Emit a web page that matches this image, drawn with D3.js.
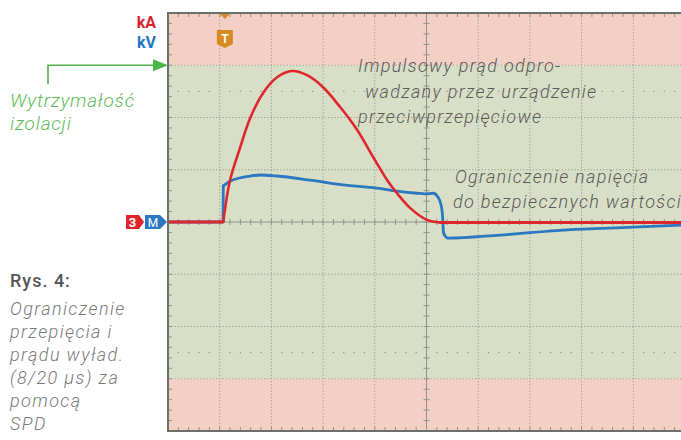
<!DOCTYPE html>
<html lang="pl">
<head>
  <meta charset="UTF-8" />
  <title>Rys. 4 – ograniczenie przepięcia</title>
  <style>
    body { margin: 0; background: #fff; font-family: 'Roboto', sans-serif; }
    svg { display: block; }
    .grid { stroke: #9a9c94; stroke-width: 1; stroke-dasharray: 1.2,2; fill: none; }
    .axis-c { stroke: #8f928c; stroke-width: 1; }
    .tick { stroke: #8f928c; stroke-width: 1; }
    .trace { fill: none; stroke-linejoin: round; stroke-linecap: round; }
    .note { font-style: italic; font-weight: 300; fill: #5a5a5a; font-size: 18px; letter-spacing: 1.3px; }
  </style>
</head>
<body>
<svg id="chart" width="681" height="440"></svg>
<script src="https://d3js.org/d3.v7.min.js"></script>
<script>
  // czas i wartości w działkach ekranu oscyloskopu
  const currentT   = [0, 1.064, 1.07, 1.20, 1.39, 1.59, 1.84, 2.11, 2.40, 2.69, 3.00, 3.33, 3.66, 3.97, 4.24, 4.43, 4.68, 5.01, 5.26, 6.5, 8.0, 10];
  const currentDiv = [0, 0, 0.01, 0.80, 1.41, 1.99, 2.47, 2.77, 2.89, 2.81, 2.58, 2.20, 1.76, 1.24, 0.80, 0.55, 0.27, 0.04, -0.01, -0.01, -0.01, -0.01];

  const voltageT   = [0, 1.064, 1.07, 1.20, 1.59, 1.78, 2.11, 2.75, 3.38, 4.04, 4.43, 4.82, 4.97, 5.13, 5.22, 5.28, 5.31, 5.33, 5.38, 5.42, 6.42, 7.72, 8.99, 10];
  const voltageDiv = [0, 0, 0.69, 0.78, 0.88, 0.90, 0.88, 0.80, 0.71, 0.65, 0.59, 0.55, 0.54, 0.55, 0.48, 0.33, 0.13, -0.21, -0.29, -0.31, -0.25, -0.15, -0.10, -0.055];

  const xDivs = d3.range(0, 11);
  const yDivs = d3.range(-4, 5);
  const bands = [{ y0: 3, y1: 4, c: "#f4d0c4" }, { y0: -3, y1: 3, c: "#d8dfc6" }, { y0: -4, y1: -3, c: "#f4d0c4" }];

  const captionLines = ["Ograniczenie", "przepięcia i", "prądu wyład.", "(8/20 µs) za", "pomocą", "SPD"];
  const noteCurrent = ["Impulsowy prąd odpro-", "wadzany przez urządzenie", "przeciwprzepięciowe"];
  const noteVoltage = ["Ograniczenie napięcia", "do bezpiecznych wartości"];

  const svg = d3.select("#chart");
  const L = 168, T = 13, W = 517, H = 418;
  const x = d3.scaleLinear().domain([0, 10]).range([L, L + W]);
  const y = d3.scaleLinear().domain([-4, 4]).range([T + H, T]);

  svg.append("clipPath").attr("id", "clip")
    .append("rect").attr("x", L).attr("y", T).attr("width", W).attr("height", H);

  const plot = svg.append("g").attr("clip-path", "url(#clip)");

  plot.selectAll("rect.band").data(bands).enter().append("rect")
    .attr("x", L).attr("width", W)
    .attr("y", d => y(d.y1)).attr("height", d => y(d.y0) - y(d.y1))
    .attr("fill", d => d.c);

  // siatka
  plot.selectAll("line.gx").data(xDivs.filter(d => d !== 5)).enter().append("line")
    .attr("class", "grid").attr("x1", d => x(d)).attr("x2", d => x(d)).attr("y1", T).attr("y2", T + H);
  plot.selectAll("line.gy").data(yDivs.filter(d => d !== 0)).enter().append("line")
    .attr("class", "grid").attr("y1", d => y(d)).attr("y2", d => y(d)).attr("x1", L).attr("x2", L + W);

  // rzędy kropek na +-2.5 działki
  const minor = d3.range(0, 50.01, 1).map(i => i / 5).filter(v => Math.abs(v - Math.round(v)) > 0.01);
  [2.5, -2.5].forEach(lv => {
    plot.selectAll(null).data(minor).enter().append("rect")
      .attr("x", d => x(d) - 0.6).attr("y", y(lv) - 0.6).attr("width", 1.2).attr("height", 1.2)
      .attr("fill", "#8f928c");
  });

  // osie środkowe
  plot.append("line").attr("class", "axis-c").attr("x1", x(5)).attr("x2", x(5)).attr("y1", T).attr("y2", T + H);
  plot.append("line").attr("class", "axis-c").attr("x1", L).attr("x2", L + W).attr("y1", y(0)).attr("y2", y(0));
  const minorX = d3.range(0, 50.01, 1).map(i => i / 5);
  const minorY = d3.range(-20, 20.01, 1).map(i => i / 5);
  plot.selectAll(null).data(minorX).enter().append("line").attr("class", "tick")
    .attr("x1", d => x(d)).attr("x2", d => x(d)).attr("y1", y(0) - 3).attr("y2", y(0) + 3);
  plot.selectAll(null).data(minorY).enter().append("line").attr("class", "tick")
    .attr("y1", d => y(d)).attr("y2", d => y(d)).attr("x1", x(5) - 3).attr("x2", x(5) + 3);
  // znaczniki na ramce
  plot.selectAll(null).data(minorX).enter().append("line").attr("class", "tick")
    .attr("x1", d => x(d)).attr("x2", d => x(d)).attr("y1", T).attr("y2", T + 4);
  plot.selectAll(null).data(minorX).enter().append("line").attr("class", "tick")
    .attr("x1", d => x(d)).attr("x2", d => x(d)).attr("y1", T + H - 4).attr("y2", T + H);
  plot.selectAll(null).data(minorY).enter().append("line").attr("class", "tick")
    .attr("y1", d => y(d)).attr("y2", d => y(d)).attr("x1", L).attr("x2", L + 4);

  // przebiegi
  const line = d3.line().x(d => x(d[0])).y(d => y(d[1])).curve(d3.curveMonotoneX);
  const lineLin = d3.line().x(d => x(d[0])).y(d => y(d[1]));
  const vPts = d3.zip(voltageT, voltageDiv);
  const iPts = d3.zip(currentT, currentDiv);
  plot.append("path").attr("class", "trace").attr("stroke", "#2b78c0").attr("stroke-width", 2.8)
    .attr("d", lineLin(vPts.slice(0, 3)) );
  plot.append("path").attr("class", "trace").attr("stroke", "#2b78c0").attr("stroke-width", 2.8)
    .attr("d", line(vPts.slice(2)));
  plot.append("path").attr("class", "trace").attr("stroke", "#e0262d").attr("stroke-width", 2.8)
    .attr("d", lineLin(iPts.slice(0, 3)));
  plot.append("path").attr("class", "trace").attr("stroke", "#e0262d").attr("stroke-width", 2.6)
    .attr("d", d3.line().x(d => x(d[0])).y(d => y(d[1])).curve(d3.curveCatmullRom)(iPts.slice(2, 19)));
  plot.append("path").attr("class", "trace").attr("stroke", "#e0262d").attr("stroke-width", 2.8)
    .attr("d", lineLin(iPts.slice(18)));

  // ramka
  svg.append("rect").attr("x", L).attr("y", T).attr("width", W).attr("height", H)
    .attr("fill", "none").attr("stroke", "#6c706b").attr("stroke-width", 2);

  // znacznik wyzwalania
  const tx = x(1.1);
  svg.append("path").attr("fill", "#d58a22")
    .attr("d", `M${tx - 5},${T + 1} L${tx + 5},${T + 1} L${tx},${T + 6} Z`);
  svg.append("path").attr("fill", "#d58a22")
    .attr("d", `M${tx - 8},${T + 17} L${tx + 8},${T + 17} L${tx + 8},${T + 31} L${tx},${T + 35} L${tx - 8},${T + 31} Z`);
  svg.append("text").attr("x", tx).attr("y", T + 30).attr("text-anchor", "middle")
    .attr("fill", "#fff").attr("font-size", 12).attr("font-weight", 700).text("T");

  // znaczniki kanałów
  const cy = y(0);
  svg.append("path").attr("fill", "#e0262d")
    .attr("d", `M126,${cy - 7} L139,${cy - 7} L144,${cy} L139,${cy + 7} L126,${cy + 7} Z`);
  svg.append("text").attr("x", 132.5).attr("y", cy + 5).attr("text-anchor", "middle")
    .attr("fill", "#fff").attr("font-size", 13).attr("font-weight", 700).text("3");
  svg.append("path").attr("fill", "#2b78c0")
    .attr("d", `M145,${cy - 7} L160,${cy - 7} L167,${cy} L160,${cy + 7} L145,${cy + 7} Z`);
  svg.append("text").attr("x", 153).attr("y", cy + 5).attr("text-anchor", "middle")
    .attr("fill", "#fff").attr("font-size", 12).text("M");

  // jednostki
  svg.append("text").attr("x", 156).attr("y", 28).attr("text-anchor", "end")
    .attr("fill", "#d9232e").attr("font-size", 16).attr("font-weight", 700).text("kA");
  svg.append("text").attr("x", 156).attr("y", 48).attr("text-anchor", "end")
    .attr("fill", "#1f78c1").attr("font-size", 16).attr("font-weight", 700).text("kV");

  // strzałka wytrzymałości izolacji
  const gy = y(3);
  svg.append("path").attr("fill", "none").attr("stroke", "#4cb548").attr("stroke-width", 1.6)
    .attr("d", `M48,84 L48,${gy} L156,${gy}`);
  svg.append("path").attr("fill", "#4cb548")
    .attr("d", `M153,${gy - 6} L168,${gy} L153,${gy + 6} Z`);
  svg.selectAll("text.iz").data(["Wytrzymałość", "izolacji"]).enter().append("text")
    .attr("x", 10).attr("y", (d, i) => 107 + i * 23).attr("fill", "#5dbb5a")
    .attr("font-size", 19).attr("font-style", "italic").attr("font-weight", 300)
    .attr("letter-spacing", "0.8px").text(d => d);

  // podpis
  svg.append("text").attr("x", 10).attr("y", 287).attr("fill", "#555")
    .attr("font-size", 18).attr("font-weight", 500).attr("letter-spacing", "1px").text("Rys. 4:");
  svg.selectAll("text.cap").data(captionLines).enter().append("text")
    .attr("x", 10).attr("y", (d, i) => 315 + i * 23)
    .attr("fill", "#7a7a7a").attr("font-size", 18).attr("font-style", "italic").attr("font-weight", 300)
    .attr("letter-spacing", "1.4px").text(d => d);

  // adnotacje
  const noteX1 = [358, 365, 358];
  svg.selectAll("text.n1").data(noteCurrent).enter().append("text").attr("class", "note")
    .attr("x", (d, i) => noteX1[i]).attr("y", (d, i) => 72 + i * 25.5).text(d => d);
  svg.selectAll("text.n2").data(noteVoltage).enter().append("text").attr("class", "note")
    .attr("x", (d, i) => [455, 453][i]).attr("y", (d, i) => 183 + i * 25).text(d => d);
</script>
</body>
</html>
